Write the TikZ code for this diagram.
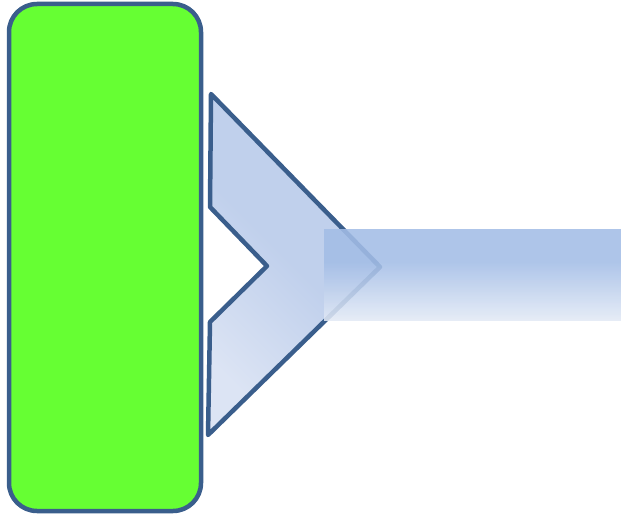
\documentclass[tikz,border=0pt]{standalone}
\begin{document}
\begin{tikzpicture}[x=1pt,y=-1pt,
  edge/.style={draw=strokeblue,line width=4.5pt,line join=round},
]
\definecolor{strokeblue}{HTML}{3A5E8C}
\definecolor{greenfill}{HTML}{66FF33}
\definecolor{chevA}{HTML}{C0D0EC}
\definecolor{chevB}{HTML}{DCE4F4}
\definecolor{barA}{HTML}{A3BDE6}
\definecolor{barB}{HTML}{E2E9F5}
\useasboundingbox (0,0) rectangle (621,516);
% green rounded block
\draw[edge,fill=greenfill,rounded corners=28pt] (9,4) rectangle (201,511);
% chevron
\path[edge,top color=chevA,bottom color=chevB,middle color=chevA,shading angle=-45]
  (211,94) -- (380,267) -- (208,435) -- (210,322) -- (267,266) -- (210,207) -- cycle;
% bar
\begin{scope}[fill opacity=0.88]
\fill[barA] (324,229) rectangle (621,262.2);
\path[top color=barA,bottom color=barB,draw=none]
  (324,262) rectangle (621,320);
\end{scope}
\end{tikzpicture}
\end{document}
